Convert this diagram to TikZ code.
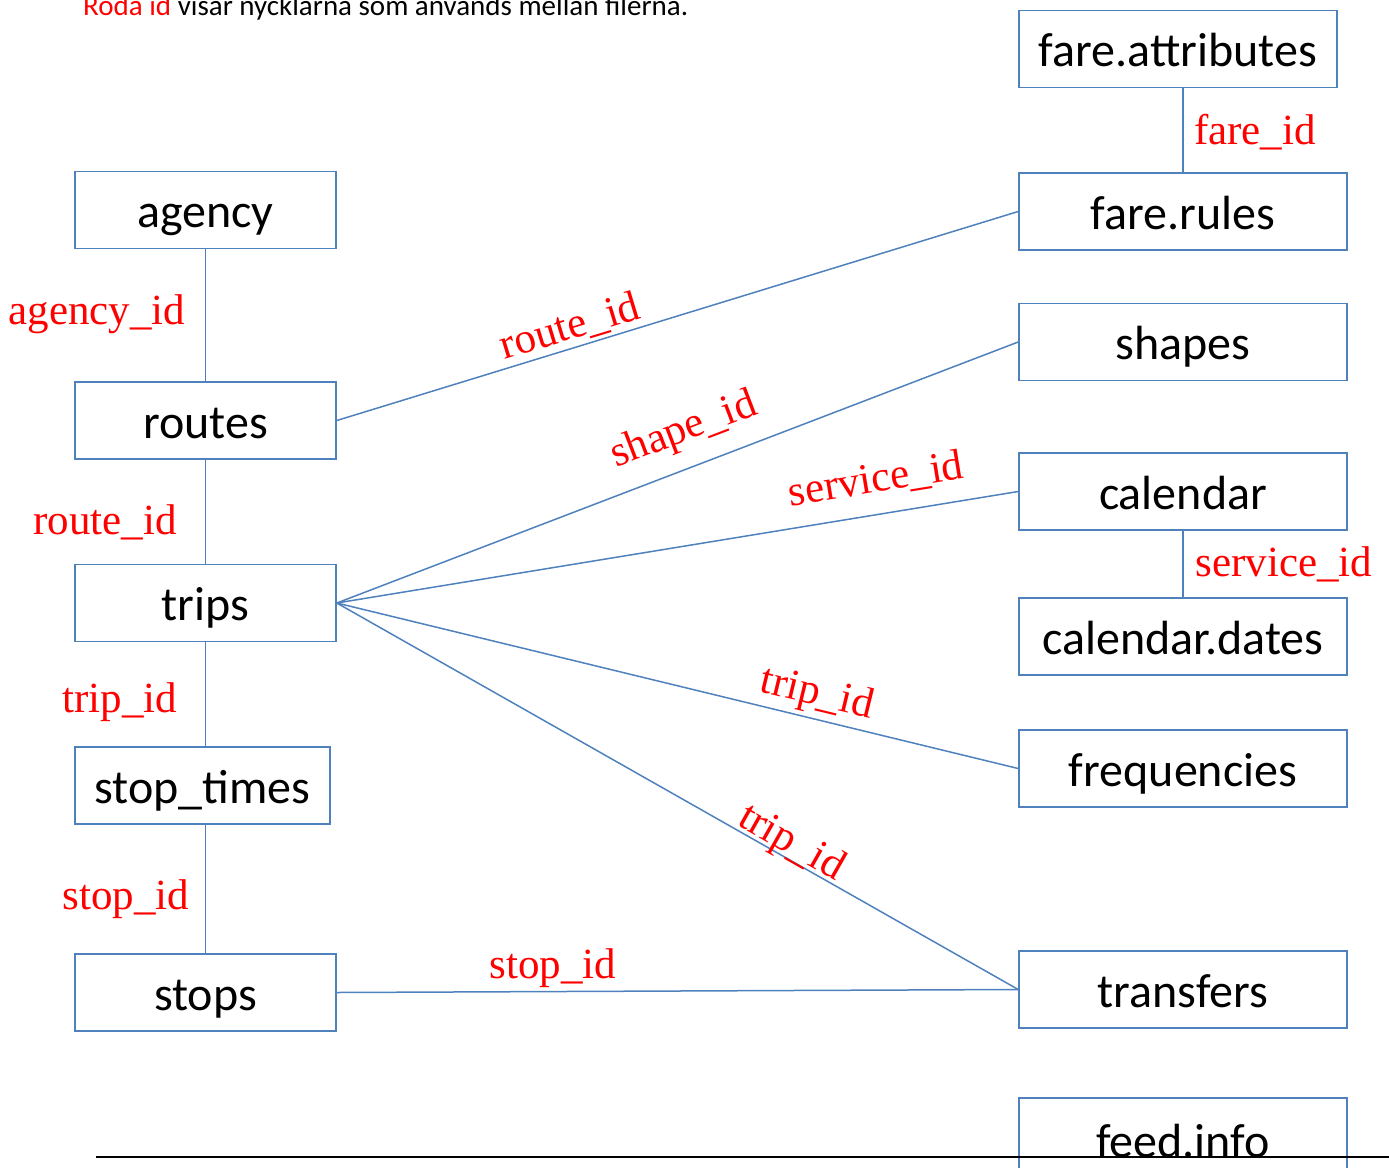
\documentclass[tikz,border=0pt]{standalone}
\usepackage{fontspec}
\setmainfont{Carlito}
\newfontfamily\lblfont{Liberation Serif}
\definecolor{boxblue}{HTML}{4F81BD}
\definecolor{keyred}{HTML}{FF0000}
\begin{document}
\begin{tikzpicture}[x=1pt,y=-1pt,
  tbl/.style={draw=boxblue,line width=1.6pt,minimum height=77pt,inner sep=0pt,text height=37pt,text depth=2pt,font=\fontsize{48}{54}\selectfont,text=black},
  conn/.style={draw=boxblue,line width=1.5pt},
  key/.style={text=keyred,font=\lblfont\fontsize{43}{48}\selectfont,inner sep=0pt}]
\useasboundingbox (0,0) rectangle (1389,1167);
\clip (0,0) rectangle (1389,1167);
% boxes
\node[tbl,minimum width=261pt] (agency) at (205.5,210) {agency};
\node[tbl,minimum width=261pt] (routes) at (205.5,420.5) {routes};
\node[tbl,minimum width=261pt] (trips) at (205.5,603) {trips};
\node[tbl,minimum width=255pt] (stoptimes) at (202.5,785.5) {stop\_times};
\node[tbl,minimum width=261pt] (stops) at (205.5,992.5) {stops};
\node[tbl,minimum width=318pt] (fareattr) at (1178,49) {fare.attributes};
\node[tbl,minimum width=328pt] (farerules) at (1183,211.5) {fare.rules};
\node[tbl,minimum width=328pt] (shapes) at (1183,342) {shapes};
\node[tbl,minimum width=328pt] (calendar) at (1183,491.5) {calendar};
\node[tbl,minimum width=328pt] (caldates) at (1183,636.5) {calendar.dates};
\node[tbl,minimum width=328pt] (freq) at (1183,768.5) {frequencies};
\node[tbl,minimum width=328pt] (transfers) at (1183,989.5) {transfers};
\node[tbl,minimum width=328pt,minimum height=90pt,text height=30pt] (feedinfo) at (1183,1143) {feed.info};
% vertical connectors
\draw[conn] (agency.south) -- (routes.north);
\draw[conn] (routes.south) -- (trips.north);
\draw[conn] (trips.south) -- (trips.south |- stoptimes.north);
\draw[conn] (trips.south |- stoptimes.south) -- (stops.north);
\draw[conn] (farerules.north |- fareattr.south) -- (farerules.north);
\draw[conn] (calendar.south) -- (caldates.north);
% diagonal connectors
\draw[conn] (routes.east) -- (farerules.west);
\draw[conn] (trips.east) -- (shapes.west);
\draw[conn] (trips.east) -- (calendar.west);
\draw[conn] (trips.east) -- (freq.west);
\draw[conn] (trips.east) -- (transfers.west);
\draw[conn] (stops.east) -- (transfers.west);
% footer line
\coordinate (fl) at (96,1157);
\coordinate (fr) at (1389,1157);
\draw[black,line width=2pt] (fl) -- (fr);
% key labels
\node[key] (k1) at (97,314) {agency\_id};
\node[key] (k2) at (105,522) {route\_id};
\node[key] (k3) at (120,702) {trip\_id};
\node[key] (k4) at (126,899) {stop\_id};
\node[key] (k5) at (1255,132) {fare\_id};
\node[key] (k6) at (1284,564) {service\_id};
\node[key,rotate=16.9] (k7) at (570,327) {route\_id};
\node[key,rotate=20.9] (k8) at (684,431) {shape\_id};
\node[key,rotate=9.2] (k9) at (876,480) {service\_id};
\node[key,rotate=-13.6] (k10) at (817,695) {trip\_id};
\node[key,rotate=-29.6] (k11) at (791,844) {trip\_id};
\node[key] (k12) at (553,968) {stop\_id};
% top note
\node[anchor=base west,inner sep=0pt,font=\fontsize{29}{33}\selectfont] (note) at (83,16) {\textcolor{keyred}{Röda id} visar nycklarna som används mellan filerna.};
\end{tikzpicture}
\end{document}
